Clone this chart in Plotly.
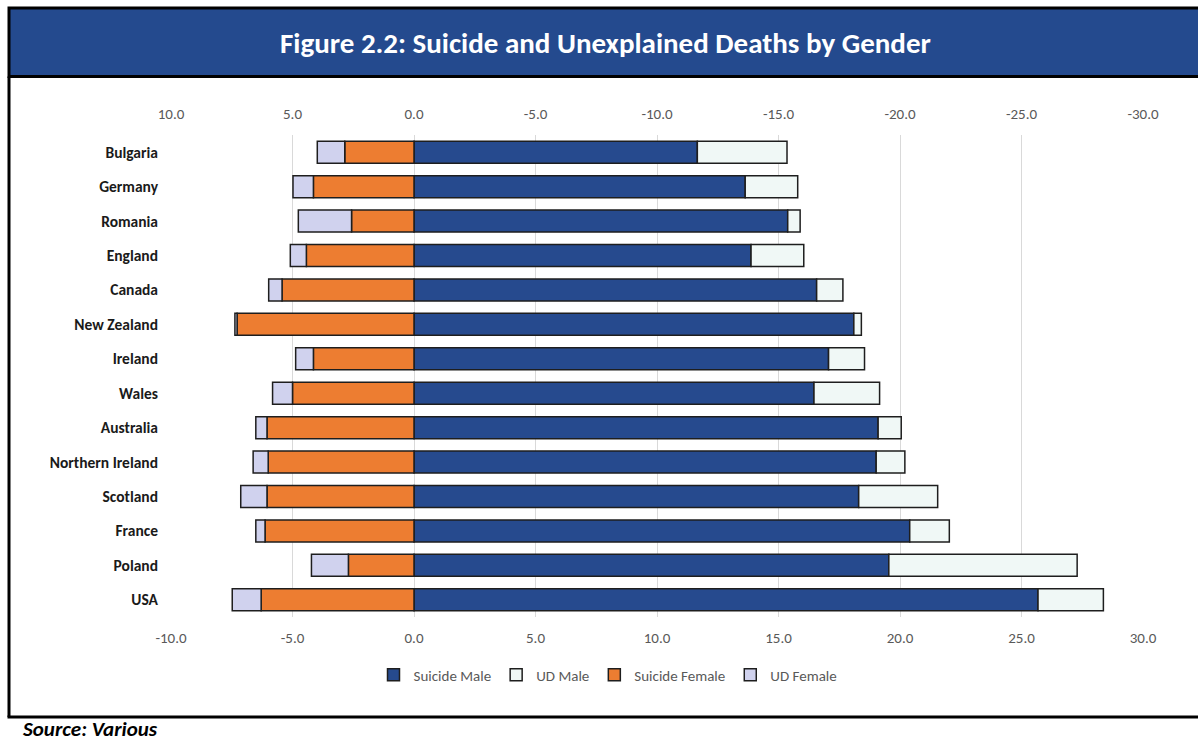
import plotly.graph_objects as go

countries = ["Bulgaria", "Germany", "Romania", "England", "Canada", "New Zealand", "Ireland",
             "Wales", "Australia", "Northern Ireland", "Scotland", "France", "Poland", "USA"]
suicide_male = [11.66, 13.63, 15.38, 13.87, 16.57, 18.10, 17.06, 16.46, 19.10, 19.02, 18.30, 20.40, 19.54, 25.68]
ud_male = [3.69, 2.16, 0.51, 2.17, 1.08, 0.31, 1.48, 2.70, 0.95, 1.18, 3.25, 1.63, 7.75, 2.69]
suicide_female = [2.85, 4.14, 2.57, 4.43, 5.43, 7.28, 4.14, 5.00, 6.05, 6.00, 6.05, 6.13, 2.70, 6.29]
ud_female = [1.13, 0.84, 2.19, 0.66, 0.55, 0.09, 0.73, 0.82, 0.46, 0.62, 1.08, 0.38, 1.52, 1.19]

tick_vals = [-10, -5, 0, 5, 10, 15, 20, 25, 30]
bottom_labels = ["-10.0", "-5.0", "0.0", "5.0", "10.0", "15.0", "20.0", "25.0", "30.0"]
top_labels = ["10.0", "5.0", "0.0", "-5.0", "-10.0", "-15.0", "-20.0", "-25.0", "-30.0"]

W, H = 1198, 742
L, R, T, B = 171, 55, 135, 125
PW, PH = W - L - R, H - T - B

def px(x):
    return (x - L) / PW

def py(y):
    return (H - B - y) / PH

FONT = "Carlito, Calibri, 'Open Sans', sans-serif"
outline = dict(color="#1E1E1E", width=1.5)

fig = go.Figure()
fig.add_trace(go.Bar(name="Suicide Male", y=countries, x=suicide_male, orientation="h",
                     marker=dict(color="#264A8E", line=outline)))
fig.add_trace(go.Bar(name="UD Male", y=countries, x=ud_male, orientation="h",
                     marker=dict(color="#F0F8F6", line=outline)))
fig.add_trace(go.Bar(name="Suicide Female", y=countries, x=[-v for v in suicide_female], orientation="h",
                     marker=dict(color="#ED7D31", line=outline)))
fig.add_trace(go.Bar(name="UD Female", y=countries, x=[-v for v in ud_female], orientation="h",
                     marker=dict(color="#D0D2EE", line=outline)))
# invisible trace to anchor the top axis
fig.add_trace(go.Scatter(x=[-10, 30], y=[countries[0], countries[0]], xaxis="x2", mode="lines",
                         line=dict(width=0), opacity=0, showlegend=False, hoverinfo="skip"))

fig.update_layout(
    width=W, height=H,
    margin=dict(l=L, r=R, t=T, b=B, autoexpand=False),
    paper_bgcolor="white", plot_bgcolor="white",
    barmode="relative", bargap=0.36,
    font=dict(family=FONT, color="#595959", size=15),
    xaxis=dict(range=[-10, 30], tickvals=tick_vals, ticktext=bottom_labels,
               showgrid=True, gridcolor="#D9D9D9", gridwidth=1, zeroline=False,
               showline=False, ticks="", ticklabelstandoff=10,
               tickfont=dict(size=15, color="#595959")),
    xaxis2=dict(range=[-10, 30], tickvals=tick_vals, ticktext=top_labels, overlaying="x",
                side="top", showgrid=False, zeroline=False, showline=False, ticks="",
                ticklabelstandoff=12, tickfont=dict(size=15, color="#595959")),
    yaxis=dict(range=[13.5, -0.5], autorange=False, showgrid=False, zeroline=False, showline=False,
               ticks="", ticklabelstandoff=12,
               tickfont=dict(size=15.5, color="#1A1A1A", family=FONT, weight="bold")),
    legend=dict(orientation="h", x=px(608), xanchor="center", y=py(675), yanchor="middle",
                font=dict(size=15, color="#595959"), tracegroupgap=0, itemwidth=30,
                traceorder="normal"),
    showlegend=True,
)

shapes = [
    dict(type="rect", xref="paper", yref="paper", x0=px(9), x1=px(1210), y0=py(8), y1=py(76.5),
         fillcolor="#244A8E", line=dict(color="black", width=3), layer="above"),
    dict(type="line", xref="paper", yref="paper", x0=px(9), x1=px(9), y0=py(76.5), y1=py(717),
         line=dict(color="black", width=3)),
    dict(type="line", xref="paper", yref="paper", x0=px(7.5), x1=px(1210), y0=py(717), y1=py(717),
         line=dict(color="black", width=3)),
]
fig.update_layout(shapes=shapes)

fig.add_annotation(xref="paper", yref="paper", x=px(605), y=py(43), xanchor="center", yanchor="middle",
                   text="<b>Figure 2.2: Suicide and Unexplained Deaths by Gender</b>", showarrow=False,
                   font=dict(family=FONT, size=29, color="white"))
fig.add_annotation(xref="paper", yref="paper", x=px(20), y=py(729), xanchor="left", yanchor="middle",
                   text="<b><i>Source: Various</i></b>", showarrow=False,
                   font=dict(family=FONT, size=21, color="black"))

fig.write_html("out.html")
